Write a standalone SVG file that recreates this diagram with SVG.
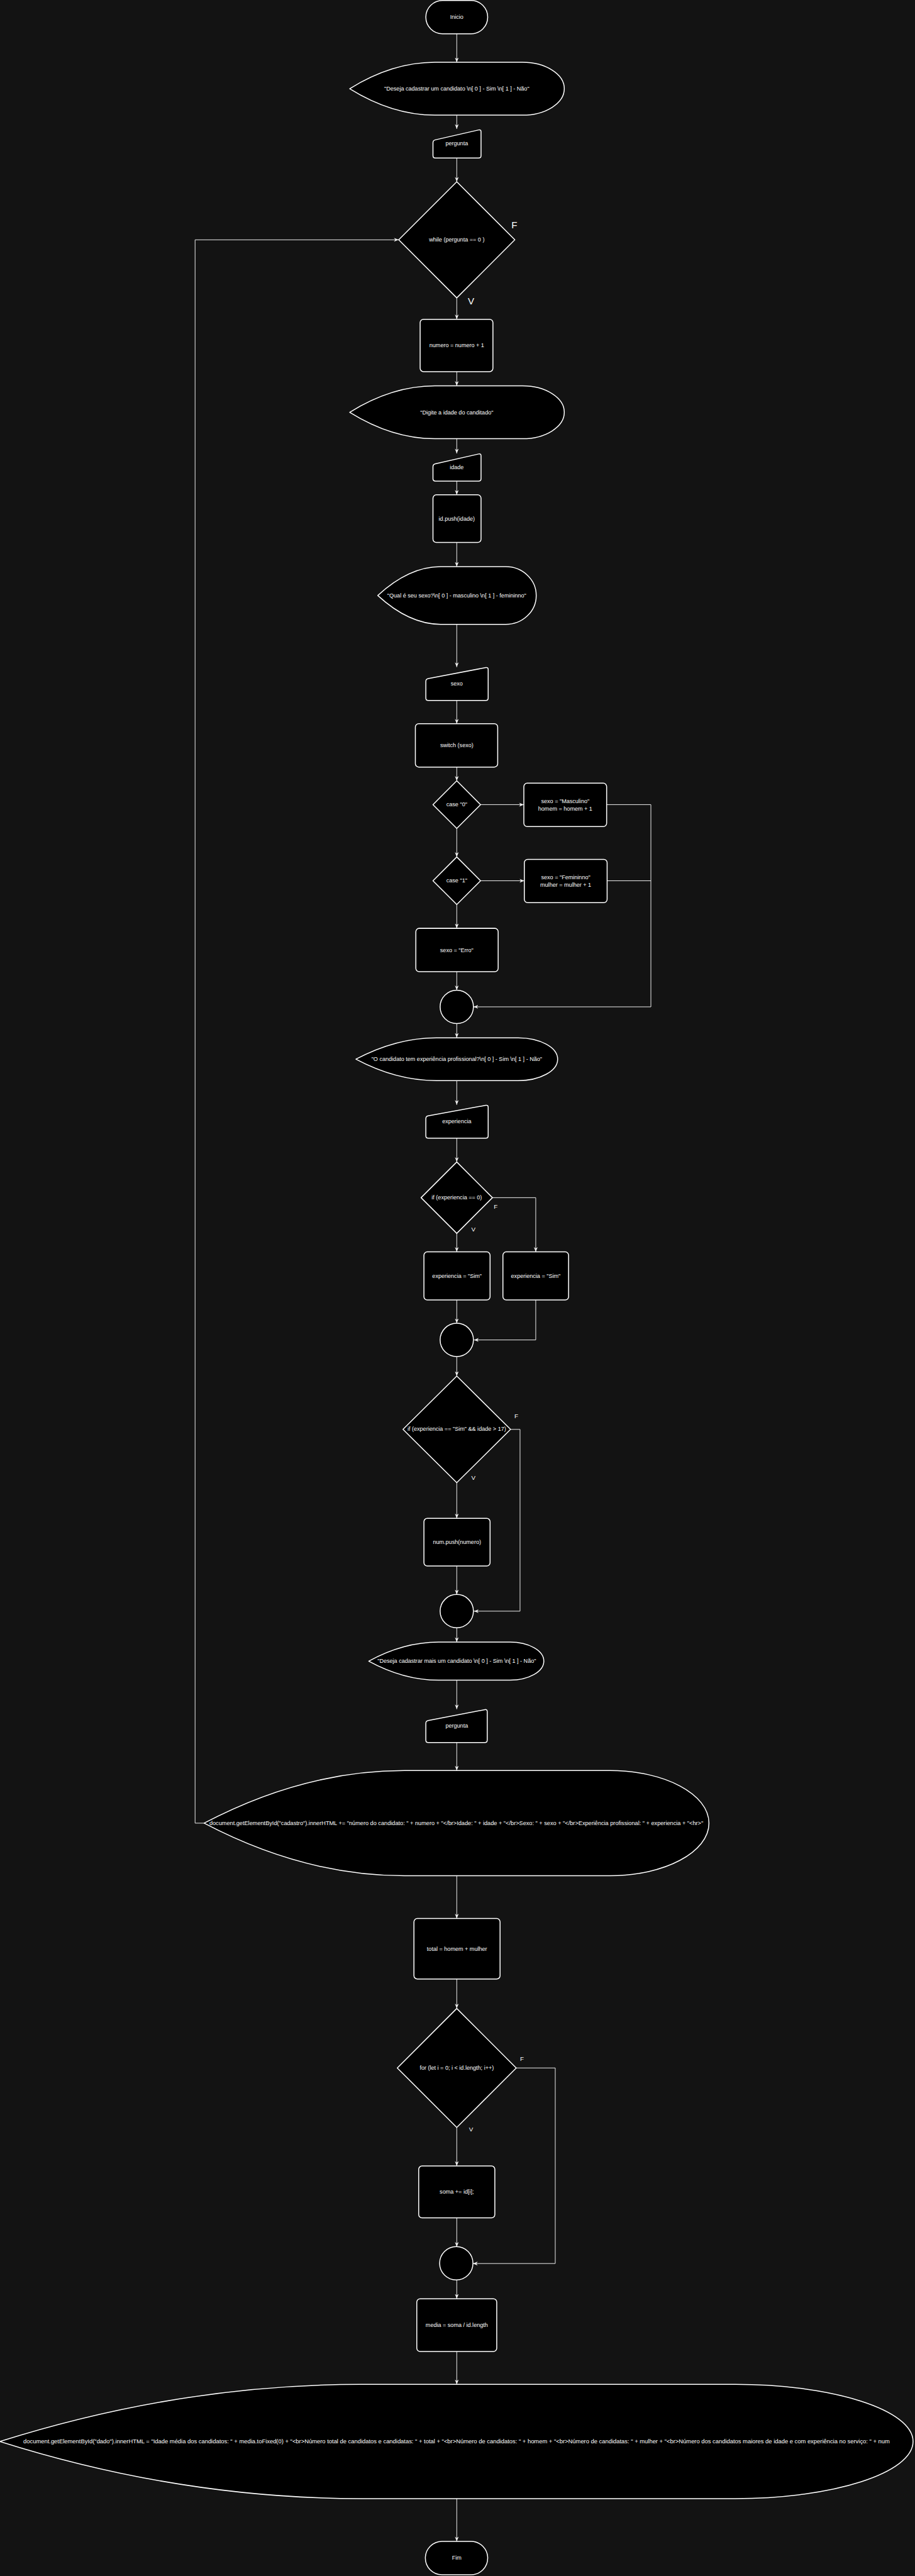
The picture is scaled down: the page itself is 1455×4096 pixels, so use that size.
<svg xmlns="http://www.w3.org/2000/svg" width="1455" height="4096" viewBox="0 0 1455 4096">
<style>
.s{fill:#000;stroke:#fff;stroke-width:2;stroke-linejoin:round}
.c{fill:none;stroke:#f2f2f2;stroke-width:1.3}
.a{marker-end:url(#arr)}
.t{font-family:"Liberation Sans",Arial,sans-serif;font-size:12px;fill:#fff;text-anchor:middle;dominant-baseline:central}
.lb{font-family:"Liberation Sans",Arial,sans-serif;font-size:20px;fill:#fff;text-anchor:middle;dominant-baseline:central}
.ls{font-family:"Liberation Sans",Arial,sans-serif;font-size:13px;fill:#fff;text-anchor:middle;dominant-baseline:central}
</style>
<defs>
<marker id="arr" viewBox="0 0 10 10" refX="10" refY="5" markerWidth="10" markerHeight="10" markerUnits="userSpaceOnUse" orient="auto">
<path d="M0,1 L10,5 L0,9 L3,5 Z" fill="#f2f2f2"/>
</marker>
</defs>
<rect x="0" y="0" width="1455" height="4096" fill="#131313"/>
<g transform="scale(0.7566)">
<g id="connectors">
<path class="c a" d="M960,71 V131"/>
<path class="c a" d="M960,242 V271"/>
<path class="c a" d="M960,332 V382"/>
<path class="c a" d="M960,626 V671"/>
<path class="c a" d="M960,781 V811"/>
<path class="c a" d="M960,922 V953"/>
<path class="c a" d="M960,1011 V1040"/>
<path class="c a" d="M960,1140 V1191"/>
<path class="c a" d="M960,1312 V1402"/>
<path class="c a" d="M960,1472 V1521"/>
<path class="c a" d="M960,1612 V1641"/>
<path class="c a" d="M1010,1691 H1101"/>
<path class="c a" d="M960,1741 V1801"/>
<path class="c a" d="M1010,1851 H1102"/>
<path class="c a" d="M960,1901 V1951"/>
<path class="c a" d="M960,2042 V2081"/>
<path class="c a" d="M1275,1691 H1368 V2116 H995"/>
<path class="c" d="M1276,1851 H1368"/>
<path class="c a" d="M960,2151 V2181"/>
<path class="c a" d="M960,2271 V2322"/>
<path class="c a" d="M960,2392 V2442"/>
<path class="c a" d="M960,2592 V2631"/>
<path class="c a" d="M1035,2517 H1126 V2631"/>
<path class="c a" d="M960,2732 V2781"/>
<path class="c a" d="M1126,2732 V2816 H996"/>
<path class="c a" d="M960,2851 V2892"/>
<path class="c a" d="M960,3116 V3191"/>
<path class="c a" d="M1073,3004 H1093 V3386 H996"/>
<path class="c a" d="M960,3291 V3351"/>
<path class="c a" d="M960,3421 V3451"/>
<path class="c a" d="M960,3531 V3592"/>
<path class="c a" d="M960,3662 V3721"/>
<path class="c a" d="M429,3831.5 H410 V504 H838"/>
<path class="c a" d="M960,3942 V4032"/>
<path class="c a" d="M960,4159 V4221"/>
<path class="c a" d="M960,4471 V4552"/>
<path class="c a" d="M1085,4346 H1167 V4757 H994"/>
<path class="c a" d="M960,4661 V4722"/>
<path class="c a" d="M960,4791 V4831"/>
<path class="c a" d="M960,4942 V5011"/>
<path class="c a" d="M960,5251 V5341"/>
<text class="lb" x="1081" y="472">F</text>
<text class="lb" x="990" y="632">V</text>
<text class="ls" x="1042" y="2536">F</text>
<text class="ls" x="995" y="2583">V</text>
<text class="ls" x="1085" y="2976">F</text>
<text class="ls" x="995" y="3105">V</text>
<text class="ls" x="1097" y="4326">F</text>
<text class="ls" x="990" y="4475">V</text>
</g>
<g id="inicio"><rect class="s" x="895" y="1" width="130" height="70" rx="35"/><text class="t" x="960" y="36">Inicio</text></g>
<g id="msg1"><path class="s" d="M735,186.5 Q824.5,131 914,131 L1098,131 C1146.6,131 1186,155.9 1186,186.5 C1186,217.1 1146.6,242 1098,242 L914,242 Q824.5,242 735,186.5 Z"/><text class="t" x="960" y="186.5">"Deseja cadastrar um candidato \n[ 0 ] - Sim \n[ 1 ] - Não"</text></g>
<g id="in-pergunta1"><path class="s" d="M910,300 Q910,295 915,293.9 L1006,273.1 Q1011,272 1011,277 L1011,327 Q1011,332 1006,332 L915,332 Q910,332 910,327 Z"/><text class="t" x="960" y="302">pergunta</text></g>
<g id="while"><polygon class="s" points="960,382 1082,504 960,626 838,504"/><text class="t" x="960" y="504">while (pergunta == 0 )</text></g>
<g id="numero"><rect class="s" x="883" y="671" width="153" height="110" rx="7"/><text class="t" x="960" y="726">numero = numero + 1</text></g>
<g id="msg-idade"><path class="s" d="M735,866.5 Q824.5,811 914,811 L1098,811 C1146.6,811 1186,835.9 1186,866.5 C1186,897.1 1146.6,922 1098,922 L914,922 Q824.5,922 735,866.5 Z"/><text class="t" x="960" y="866.5">"Digite a idade do canditado"</text></g>
<g id="in-idade"><path class="s" d="M910,981 Q910,976 915,974.9 L1006,954.1 Q1011,953 1011,958 L1011,1006 Q1011,1011 1006,1011 L915,1011 Q910,1011 910,1006 Z"/><text class="t" x="960" y="982">idade</text></g>
<g id="push-idade"><rect class="s" x="910" y="1040" width="101" height="100" rx="7"/><text class="t" x="960" y="1090">id.push(idade)</text></g>
<g id="msg-sexo"><path class="s" d="M794,1251.5 Q860,1191 926,1191 L1063,1191 C1098.3,1191 1127,1218.1 1127,1251.5 C1127,1284.9 1098.3,1312 1063,1312 L926,1312 Q860,1312 794,1251.5 Z"/><text class="t" x="960" y="1251.5">"Qual é seu sexo?\n[ 0 ] - masculino \n[ 1 ] - femininno"</text></g>
<g id="in-sexo"><path class="s" d="M895,1432 Q895,1427 900,1426 L1021,1403 Q1026,1402 1026,1407 L1026,1467 Q1026,1472 1021,1472 L900,1472 Q895,1472 895,1467 Z"/><text class="t" x="960" y="1437">sexo</text></g>
<g id="switch"><rect class="s" x="873" y="1521" width="173" height="91" rx="7"/><text class="t" x="960" y="1566.5">switch (sexo)</text></g>
<g id="case0"><polygon class="s" points="960,1641 1010,1691 960,1741 910,1691"/><text class="t" x="960" y="1691">case "0"</text></g>
<g id="masc"><rect class="s" x="1101" y="1646" width="174" height="91" rx="7"/><text class="t" x="1188" y="1683.5">sexo = "Masculino"</text><text class="t" x="1188" y="1699.5">homem = homem + 1</text></g>
<g id="case1"><polygon class="s" points="960,1801 1010,1851 960,1901 910,1851"/><text class="t" x="960" y="1851">case "1"</text></g>
<g id="fem"><rect class="s" x="1102" y="1806" width="174" height="91" rx="7"/><text class="t" x="1189" y="1843.5">sexo = "Femininno"</text><text class="t" x="1189" y="1859.5">mulher = mulher + 1</text></g>
<g id="erro"><rect class="s" x="874" y="1951" width="173" height="91" rx="7"/><text class="t" x="960" y="1996.5">sexo = "Erro"</text></g>
<g id="merge1"><circle class="s" cx="960" cy="2116" r="35"/></g>
<g id="msg-exp"><path class="s" d="M748,2226 Q832.5,2181 917,2181 L1089,2181 C1134.8,2181 1172,2201.2 1172,2226 C1172,2250.8 1134.8,2271 1089,2271 L917,2271 Q832.5,2271 748,2226 Z"/><text class="t" x="960" y="2226">"O candidato tem experiência profissional?\n[ 0 ] - Sim \n[ 1 ] - Não"</text></g>
<g id="in-exp"><path class="s" d="M895,2351 Q895,2346 900,2345.1 L1021,2322.9 Q1026,2322 1026,2327 L1026,2387 Q1026,2392 1021,2392 L900,2392 Q895,2392 895,2387 Z"/><text class="t" x="960" y="2357">experiencia</text></g>
<g id="if-exp"><polygon class="s" points="960,2442 1035,2517 960,2592 885,2517"/><text class="t" x="960" y="2517">if (experiencia == 0)</text></g>
<g id="exp-sim1"><rect class="s" x="891" y="2631" width="139" height="101" rx="7"/><text class="t" x="960.5" y="2681.5">experiencia = "Sim"</text></g>
<g id="exp-sim2"><rect class="s" x="1057" y="2631" width="138" height="101" rx="7"/><text class="t" x="1126" y="2681.5">experiencia = "Sim"</text></g>
<g id="merge2"><circle class="s" cx="960" cy="2816" r="35"/></g>
<g id="if-maior"><polygon class="s" points="960,2892 1073,3004 960,3116 847,3004"/><text class="t" x="960" y="3003">if (experiencia == "Sim" &amp;&amp; idade &gt; 17)</text></g>
<g id="push-num"><rect class="s" x="891" y="3191" width="139" height="100" rx="7"/><text class="t" x="960.5" y="3241">num.push(numero)</text></g>
<g id="merge3"><circle class="s" cx="960" cy="3386" r="35"/></g>
<g id="msg-mais"><path class="s" d="M775,3491 Q848.5,3451 922,3451 L1072,3451 C1111.2,3451 1143,3468.9 1143,3491 C1143,3513.1 1111.2,3531 1072,3531 L922,3531 Q848.5,3531 775,3491 Z"/><text class="t" x="960" y="3491">"Deseja cadastrar mais um candidato \n[ 0 ] - Sim \n[ 1 ] - Não"</text></g>
<g id="in-pergunta2"><path class="s" d="M895,3622 Q895,3617 900,3616 L1019,3593 Q1024,3592 1024,3597 L1024,3657 Q1024,3662 1019,3662 L900,3662 Q895,3662 895,3657 Z"/><text class="t" x="960" y="3627">pergunta</text></g>
<g id="out-cadastro"><path class="s" d="M429,3831.5 Q639.5,3721 850,3721 L1282,3721 C1396.8,3721 1490,3770.5 1490,3831.5 C1490,3892.5 1396.8,3942 1282,3942 L850,3942 Q639.5,3942 429,3831.5 Z"/><text class="t" x="959" y="3831.5" textLength="1038" lengthAdjust="spacingAndGlyphs">document.getElementById("cadastro").innerHTML += "número do candidato: " + numero + "&lt;/br&gt;Idade: " + idade + "&lt;/br&gt;Sexo: " + sexo + "&lt;/br&gt;Experiência profissional: " + experiencia + "&lt;hr&gt;"</text></g>
<g id="total"><rect class="s" x="870" y="4032" width="181" height="127" rx="7"/><text class="t" x="960.5" y="4095.5">total = homem + mulher</text></g>
<g id="for"><polygon class="s" points="960,4221 1085,4346 960,4471 835,4346"/><text class="t" x="960" y="4346">for (let i = 0; i &lt; id.length; i++)</text></g>
<g id="soma"><rect class="s" x="880" y="4552" width="160" height="109" rx="7"/><text class="t" x="960" y="4606.5">soma += id[i];</text></g>
<g id="merge4"><circle class="s" cx="959" cy="4756.5" r="35"/></g>
<g id="media"><rect class="s" x="876" y="4831" width="168" height="111" rx="7"/><text class="t" x="960" y="4886.5">media = soma / id.length</text></g>
<g id="out-dado"><path class="s" d="M0,5131 Q380,5011 760,5011 L1545,5011 C1751.4,5011 1919,5064.8 1919,5131 C1919,5197.2 1751.4,5251 1545,5251 L760,5251 Q380,5251 0,5131 Z"/><text class="t" x="959.5" y="5131" textLength="1821" lengthAdjust="spacingAndGlyphs">document.getElementById("dado").innerHTML = "Idade média dos candidatos: " + media.toFixed(0) + "&lt;br&gt;Número total de candidatos e candidatas: " + total + "&lt;br&gt;Número de candidatos: " + homem + "&lt;br&gt;Número de candidatas: " + mulher + "&lt;br&gt;Número dos candidatos maiores de idade e com experiência no serviço: " + num</text></g>
<g id="fim"><rect class="s" x="894" y="5341" width="131" height="70" rx="35"/><text class="t" x="960" y="5376">Fim</text></g>
</g>
</svg>
